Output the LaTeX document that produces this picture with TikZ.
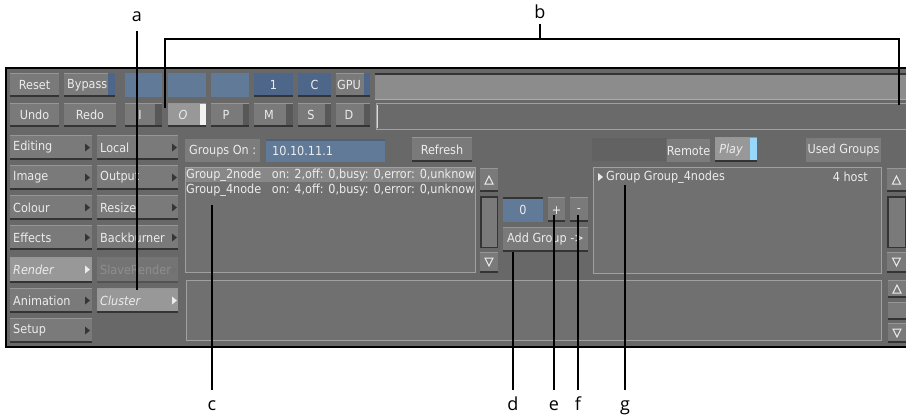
\documentclass[tikz,border=0pt]{standalone}
\usepackage{fontspec}
\newfontfamily\uifont{DejaVu Sans Condensed}
\newfontfamily\lblfont{Open Sans}
\definecolor{panelbg}{RGB}{104,104,104}
\definecolor{btnc}{RGB}{122,122,122}
\definecolor{btnsh}{RGB}{52,52,52}
\definecolor{btnhi}{RGB}{150,150,150}
\definecolor{btnlit}{RGB}{152,152,152}
\definecolor{flatc}{RGB}{124,124,124}
\definecolor{blueA}{RGB}{96,122,152}
\definecolor{blueB}{RGB}{78,102,138}
\definecolor{fieldA}{RGB}{140,140,140}
\definecolor{fieldB}{RGB}{106,106,106}
\definecolor{listbg}{RGB}{112,112,112}
\definecolor{listbd}{RGB}{160,160,160}
\definecolor{rowhi}{RGB}{136,136,136}
\definecolor{uitext}{RGB}{236,236,236}
\definecolor{dimtext}{RGB}{142,142,142}
\definecolor{strip}{RGB}{88,88,88}
\definecolor{skyblue}{RGB}{150,215,250}
\definecolor{darkpatch}{RGB}{98,98,98}
\newcommand\uibtn[5][btnc]{%
  \fill[#1] ({#2},{#3}) rectangle ({#4},{#5});
  \fill[btnsh] ({#2},{#5-2}) rectangle ({#4},{#5});
  \fill[btnhi] ({#2},{#3}) rectangle ({#4},{#3+1});
}
\newcommand\rtri[2]{\fill[strip!60!black] ({#1},{#2-4}) -- ({#1+5},{#2}) -- ({#1},{#2+4}) -- cycle;}
\newcommand\wtri[2]{\fill[uitext] ({#1},{#2-4}) -- ({#1+5},{#2}) -- ({#1},{#2+4}) -- cycle;}
\newcommand\uptri[2]{\draw[uitext,line width=1pt] ({#1-4},{#2+4}) -- ({#1},{#2-4}) -- ({#1+4},{#2+4}) -- cycle;}
\newcommand\dntri[2]{\draw[uitext,line width=1pt] ({#1-4},{#2-4}) -- ({#1},{#2+4}) -- ({#1+4},{#2-4}) -- cycle;}
\newcommand\scrollbar[5]{%
  \uibtn{#1}{#3}{#2}{#3+24}
  \uptri{(#1+#2)/2}{#3+12}
  \fill[btnsh] ({#1},{#4}) rectangle ({#2},{#5});
  \fill[btnc] ({#1+2},{#4+2}) rectangle ({#2-1},{#5-1});
  \uibtn{#1}{#5+4}{#2}{#5+25}
  \dntri{(#1+#2)/2}{#5+14}
}
\tikzset{
  ui/.style={font=\uifont\fontsize{12.5}{13}\selectfont, text=uitext, inner sep=0pt},
  uii/.style={ui, font=\uifont\itshape\fontsize{12.5}{13}\selectfont},
  uil/.style={ui, anchor=west},
  lbl/.style={font=\lblfont\fontsize{18}{19}\selectfont, text=black, text height=13pt, text depth=4pt, inner xsep=0pt},
  callout/.style={draw=black, line width=2pt}
}
\begin{document}
\begin{tikzpicture}[x=1pt,y=-1pt]
\useasboundingbox (0,0) rectangle (906,415);
% panel
\fill[panelbg] (6,68) rectangle (906,347);
% ---- row 1
\uibtn{10}{73}{59}{97}
\node[ui] at (34.5,85) {Reset};
\uibtn{64}{73}{115}{97}
\fill[blueB] (108,73) rectangle (115,95);
\node[uil] at (67,85) {Bypass};
\fill[blueA] (125,73) rectangle (162,97);
\fill[blueA] (168,73) rectangle (206,97);
\fill[blueA] (211,73) rectangle (249,97);
\fill[blueB] (254,73) rectangle (293,97);
\fill[btnsh] (254,95) rectangle (293,97);
\node[ui] at (273.5,85) {1};
\fill[blueB] (298,73) rectangle (331,97);
\fill[btnsh] (298,95) rectangle (331,97);
\node[ui] at (314.5,85) {C};
\uibtn{336}{73}{370}{97}
\fill[blueB] (364,73) rectangle (370,95);
\node[uil] at (337,85) {GPU};
\fill[fieldA] (375,73) rectangle (906,100);
\fill[btnsh] (375,73) rectangle (906,75);
\fill[btnhi!80!white] (375,99) rectangle (906,100);
% ---- row 2
\uibtn{10}{103}{59}{127}
\node[ui] at (34.5,115) {Undo};
\uibtn{64}{103}{116}{127}
\node[ui] at (90,115) {Redo};
\uibtn{125}{103}{162}{127}
\fill[strip] (155,104) rectangle (162,125);
\node[ui] at (140,115) {I};
\uibtn[btnlit]{168}{103}{206}{127}
\fill[white!90!gray] (200,104) rectangle (206,125);
\node[uii] at (183,115) {O};
\uibtn{211}{103}{249}{127}
\fill[strip] (243,104) rectangle (249,125);
\node[ui] at (226,115) {P};
\uibtn{254}{103}{293}{127}
\fill[strip] (286,104) rectangle (293,125);
\node[ui] at (269,115) {M};
\uibtn{298}{103}{331}{127}
\fill[strip] (325,104) rectangle (331,125);
\node[ui] at (311,115) {S};
\uibtn{336}{103}{370}{127}
\fill[strip] (364,104) rectangle (370,125);
\node[ui] at (349,115) {D};
\fill[fieldB] (375,103) rectangle (906,130);
\draw[listbd, line width=0.8pt] (906,103.5) -- (376.5,103.5) -- (376.5,129.5) -- (906,129.5);
\draw[yellow, line width=1pt] (377,105) -- (377,128);
% ---- left menu
\foreach \ya/\txt in {135/Editing,165/Image,195/Colour,225/Effects,288/Animation,318/Setup}{
  \uibtn{10}{\ya}{92}{\ya+25}
  \node[uil] at (13,\ya+12.5) {\txt};
  \rtri{85}{\ya+12.5}
}
\uibtn[btnlit]{10}{257}{92}{283}
\node[uii, anchor=west] at (13,269.5) {Render};
\wtri{85}{269.5}
\foreach \ya/\txt in {135/Local,165/Output,195/Resize,225/Backburner}{
  \uibtn{97}{\ya}{178}{\ya+25}
  \node[uil] at (100,\ya+12.5) {\txt};
  \rtri{172}{\ya+12.5}
}
\fill[panelbg!92!white] (97,257) rectangle (178,283);
\fill[panelbg!80!black] (97,281) rectangle (178,283);
\node[uil, text=dimtext] at (100,270) {SlaveRender};
\fill[dimtext!80!black] (172,266) -- (177,270) -- (172,274) -- cycle;
\uibtn[btnlit]{97}{288}{178}{313}
\node[uii, anchor=west] at (100,300.5) {Cluster};
\wtri{172}{300.5}
% ---- groups on line
\fill[flatc] (185,139) rectangle (260,162);
\node[uil] at (189,151) {Groups On :};
\fill[blueA] (266,139) rectangle (385,162);
\fill[blueA!80!black] (266,139) rectangle (385,140.5);
\node[uil] at (272,151) {10.10.11.1};
\uibtn{412}{137}{472}{162}
\node[ui] at (442,149.5) {Refresh};
\fill[darkpatch] (592,138) rectangle (666,161);
\fill[flatc] (667,139) rectangle (710,162);
\node[ui] at (688.5,151) {Remote};
\uibtn[btnlit]{715}{137}{757}{162}
\fill[skyblue] (750,138) rectangle (757,160);
\node[uii] at (731,150) {Play};
\fill[flatc] (806,138) rectangle (881,162);
\node[ui] at (843.5,150) {Used Groups};
% ---- left list
\fill[listbg] (185,167) rectangle (476,273);
\draw[listbd, line width=0.8pt] (185.5,167.5) rectangle (475.5,272.5);
\fill[rowhi] (186,168) rectangle (475,182);
\begin{scope}
\clip (186,167) rectangle (475,273);
\node[uil] at (186,175.5) {Group\_2node\ \ \ on: 2,off: 0,busy: 0,error: 0,unknow};
\node[uil] at (186,190.5) {Group\_4node\ \ \ on: 4,off: 0,busy: 0,error: 0,unknow};
\end{scope}
\scrollbar{480}{498}{168}{196}{248}
% ---- group controls
\fill[blueA] (503,197) rectangle (543,222);
\fill[btnsh] (503,197) rectangle (543,199);
\node[ui] at (523,210) {0};
\uibtn{548}{197}{565}{222}
\node[ui] at (556.5,211) {+};
\uibtn{570}{197}{588}{222}
\node[ui] at (579,211) {-};
\uibtn{503}{227}{588}{252}
\node[ui] at (545.5,239.5) {Add Group -{}>};
% ---- right list
\fill[listbg] (593,167) rectangle (882,274);
\draw[listbd, line width=0.8pt] (593.5,167.5) rectangle (881.5,273.5);
\wtri{598}{177}
\node[uil] at (606,177) {Group Group\_4nodes};
\node[ui, anchor=east] at (868,177) {4 host};
\scrollbar{887}{906}{168}{196}{248}
% ---- bottom box
\fill[listbg] (186,280) rectangle (882,341);
\draw[listbd, line width=0.8pt] (186.5,280.5) rectangle (881.5,340.5);
\uibtn{888}{280}{906}{298}
\uptri{897}{289}
\uibtn{888}{302}{906}{320}
\uibtn{888}{323}{906}{343}
\dntri{897}{333}
% panel border
\draw[black, line width=1.5pt] (906,68) -- (6,68) -- (6,347) -- (906,347);
% ---- callouts
\node[lbl, anchor=south, inner ysep=5pt] (la) at (137,31) {a};
\coordinate (ta) at (137,290);
\draw[callout] (la) -- (ta);
\node[lbl, anchor=south, inner ysep=1pt] (lb) at (540,24) {b};
\coordinate (bj) at (540,39);
\coordinate (bl) at (165,108);
\coordinate (br) at (899,105);
\draw[callout] (lb) -- (bj);
\draw[callout] (bl) -- (165,39) -- (899,39) -- (br);
\foreach \n/\x/\y in {c/212/205,d/513/252,e/554/215,f/578/215,g/625/185}{
  \node[lbl, anchor=north, inner ysep=7pt] (l\n) at (\x,390) {\n};
  \coordinate (t\n) at (\x,\y);
  \draw[callout] (l\n) -- (t\n);
}
\end{tikzpicture}
\end{document}
